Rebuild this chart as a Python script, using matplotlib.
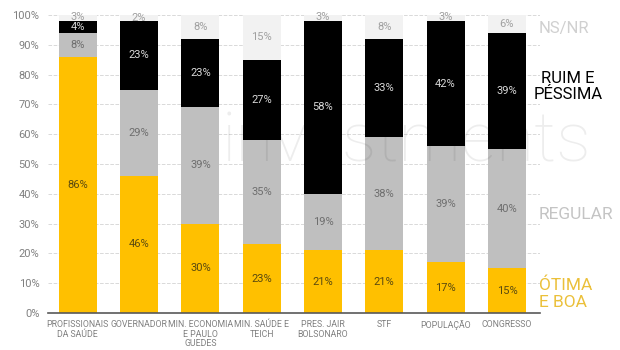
import numpy as np
import matplotlib.pyplot as plt

categorias = ['PROFISSIONAIS\nDA SAÚDE', 'GOVERNADOR', 'MIN. ECONOMIA\nE PAULO\nGUEDES',
              'MIN. SAÚDE E\nTEICH', 'PRES. JAIR\nBOLSONARO', 'STF', 'POPULAÇÃO', 'CONGRESSO']
otima_boa = [86, 46, 30, 23, 21, 21, 17, 15]
regular = [8, 29, 39, 35, 19, 38, 39, 40]
ruim_pessima = [4, 23, 23, 27, 58, 33, 42, 39]
ns_nr = [3, 2, 8, 15, 3, 8, 3, 6]

plt.rcParams['font.family'] = ['Roboto', 'DejaVu Sans']

fig = plt.figure(figsize=(6.2, 3.5), dpi=100)
ax = fig.add_axes([0.077, 0.106, 0.794, 0.851])

x = np.arange(len(categorias))
w = 0.62
series = [otima_boa, regular, ruim_pessima, ns_nr]
cores = ['#FFC000', '#BFBFBF', '#000000', '#F2F2F2']
cores_txt = ['#5a4a10', '#6e6e6e', '#d9d9d9', '#a0a0a0']
base = np.zeros(len(categorias))
for vals, c, tc in zip(series, cores, cores_txt):
    vals = np.array(vals, dtype=float)
    ax.bar(x, vals, w, bottom=base, color=c, zorder=2)
    for xi, b, v in zip(x, base, vals):
        yc = min(b + v / 2, 99.3)
        ax.text(xi, yc, f'{int(v)}%', ha='center', va='center', color=tc,
                fontsize=8, zorder=4)
    base = base + vals

ax.set_ylim(0, 100)
ax.set_xlim(-0.49, 7.54)
ax.set_yticks(range(0, 101, 10))
ax.set_yticklabels([f'{v}%' for v in range(0, 101, 10)])
ax.set_xticks(x)
ax.set_xticklabels(categorias, fontsize=6.3, color='#808080', linespacing=1.1)
ax.tick_params(axis='y', labelsize=8, colors='#808080', length=0, pad=6)
ax.tick_params(axis='x', length=0, pad=5)
ax.grid(axis='y', color='#d9d9d9', linestyle='--', linewidth=0.7, zorder=0)
for s in ['top', 'right', 'left']:
    ax.spines[s].set_visible(False)
ax.spines['bottom'].set_color('#595959')
ax.spines['bottom'].set_linewidth(1.2)

# marca d'agua
ax.text(2.35, 57, 'investments', fontsize=50, color='#000000', alpha=0.07,
        fontweight='light', ha='left', va='center', zorder=5, clip_on=False)

# rotulos da legenda a direita
ax.text(7.52, 95.5, 'NS/NR', color='#d0d0d0', fontsize=12, va='center', clip_on=False)
ax.text(8.0, 76, 'RUIM E\nPÉSSIMA', color='#000000', fontsize=12, va='center',
        ha='center', clip_on=False, linespacing=1.15)
ax.text(7.52, 33, 'REGULAR', color='#c4c4c4', fontsize=12.5, va='center', clip_on=False)
ax.text(7.52, 6.5, 'ÓTIMA\nE BOA', color='#EBC03A', fontsize=12.5, va='center',
        clip_on=False, linespacing=1.15)

fig.savefig('out.png', dpi=100)
